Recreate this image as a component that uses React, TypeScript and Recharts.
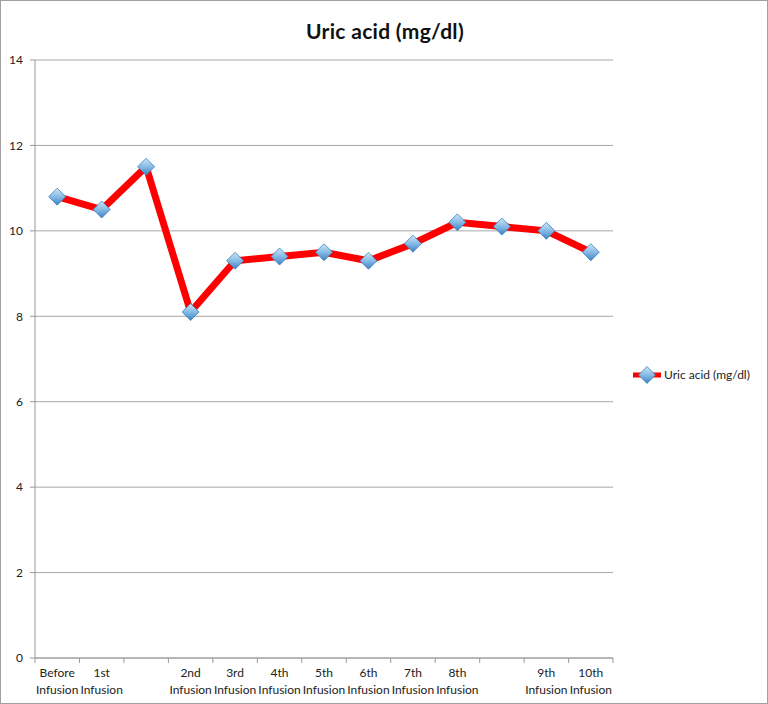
import { CartesianGrid, Line, LineChart, XAxis, YAxis } from "recharts";

const categories = [
  "Before Infusion",
  "1st Infusion",
  "",
  "2nd Infusion",
  "3rd Infusion",
  "4th Infusion",
  "5th Infusion",
  "6th Infusion",
  "7th Infusion",
  "8th Infusion",
  "",
  "9th Infusion",
  "10th Infusion",
];
const uricAcid = [10.8, 10.5, 11.5, 8.1, 9.3, 9.4, 9.5, 9.3, 9.7, 10.2, 10.1, 10.0, 9.5];
const yTicks = [0, 2, 4, 6, 8, 10, 12, 14];

const data = categories.map((c, i) => ({ cat: c, key: `c${i}`, value: uricAcid[i] }));

const FONT = "Lato, 'Open Sans', sans-serif";
const BAND = (612 - 35) / categories.length;

function Diamond({ cx, cy }: { cx?: number; cy?: number }) {
  if (cx == null || cy == null) return null;
  const r = 8.5;
  return (
    <polygon
      points={`${cx},${cy - r} ${cx + r},${cy} ${cx},${cy + r} ${cx - r},${cy}`}
      fill="url(#ua-diamond)"
      stroke="#3f7fb9"
      strokeWidth={0.8}
    />
  );
}

function XTick(props: any) {
  const { x, y, payload, index } = props;
  const i0 = payload?.index ?? index;
  const label: string = categories[i0] ?? "";
  const words = label ? label.split(" ") : [];
  const last = i0 === categories.length - 1;
  return (
    <g>
      <line x1={x - BAND / 2} x2={x - BAND / 2} y1={y - 8} y2={y - 3} stroke="#9a9a9a" />
      {last && <line x1={x + BAND / 2} x2={x + BAND / 2} y1={y - 8} y2={y - 3} stroke="#9a9a9a" />}
      {words.map((w, i) => (
        <text
          key={i}
          x={x}
          y={y + 11 + i * 17}
          textAnchor="middle"
          fontFamily={FONT}
          fontSize={12}
          fill="#222"
        >
          {w}
        </text>
      ))}
    </g>
  );
}

export default function App() {
  return (
    <div
      style={{
        position: "absolute",
        left: 0,
        top: 0,
        width: 766,
        height: 702,
        border: "1px solid #a0a0a0",
        background: "#fff",
        fontFamily: FONT,
      }}
    >
      <div
        style={{
          position: "absolute",
          left: 0,
          width: 768,
          top: 17,
          textAlign: "center",
          fontSize: 21,
          fontWeight: 700,
          color: "#111",
          letterSpacing: 0.3,
        }}
      >
        Uric acid (mg/dl)
      </div>
      <LineChart
        width={766}
        height={702}
        data={data}
        margin={{ top: 59, right: 154, bottom: 0, left: 0 }}
      >
        <defs>
          <linearGradient id="ua-diamond" x1="0" y1="0" x2="0" y2="1">
            <stop offset="0%" stopColor="#cfe6f8" />
            <stop offset="55%" stopColor="#7fb6e3" />
            <stop offset="100%" stopColor="#3d7fc0" />
          </linearGradient>
        </defs>
        <CartesianGrid vertical={false} stroke="#a8a8a8" strokeWidth={1} />
        <XAxis
          dataKey="key"
          interval={0}
          padding={{ left: BAND / 2, right: BAND / 2 }}
          axisLine={{ stroke: "#9a9a9a" }}
          tickLine={false}
          tick={<XTick />}
          height={45}
        />
        <YAxis
          domain={[0, 14]}
          ticks={yTicks}
          width={34}
          axisLine={{ stroke: "#9a9a9a" }}
          tickLine={{ stroke: "#9a9a9a" }}
          tickSize={5}
          tickMargin={7}
          tick={{ fill: "#222", fontSize: 12, fontFamily: FONT }}
        />
        <Line
          type="linear"
          dataKey="value"
          name="Uric acid (mg/dl)"
          stroke="#ff0000"
          strokeWidth={7}
          dot={<Diamond />}
          activeDot={false}
          isAnimationActive={false}
        />
      </LineChart>
      <svg
        width={130}
        height={20}
        style={{ position: "absolute", left: 630, top: 364 }}
      >
        <line x1={2} x2={30} y1={10} y2={10} stroke="#ff0000" strokeWidth={5} />
        <Diamond cx={16} cy={10} />
        <text x={33} y={14} fontFamily={FONT} fontSize={12} fill="#222">
          Uric acid (mg/dl)
        </text>
      </svg>
    </div>
  );
}
